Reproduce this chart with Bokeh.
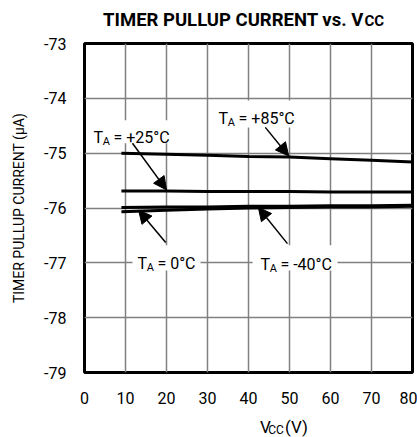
from bokeh.plotting import figure
from bokeh.layouts import column
from bokeh.models import Label, Arrow, NormalHead, BoxAnnotation, Range1d, FixedTicker
from bokeh.embed import file_html
from bokeh.resources import INLINE

# ---- data ----
vcc = [9, 20, 30, 40, 50, 60, 70, 80]
i_p85 = [-75.00, -75.02, -75.04, -75.06, -75.07, -75.10, -75.13, -75.16]
i_p25 = [-75.69, -75.69, -75.70, -75.70, -75.70, -75.71, -75.71, -75.71]
i_m40 = [-75.99, -75.98, -75.98, -75.97, -75.97, -75.96, -75.96, -75.95]
i_0 = [-76.07, -76.04, -76.02, -76.00, -75.99, -75.98, -75.98, -75.97]
x_ticks = [0, 10, 20, 30, 40, 50, 60, 70, 80]
y_ticks = [-79, -78, -77, -76, -75, -74, -73]
y_tick_labels = ["-79", "-78", "-77", "-76", "-75", "-74", "-73"]

FONT = "Roboto"
W = 417

def blank(height):
    f = figure(width=W, height=height, output_backend="svg", toolbar_location=None,
               title=None, x_range=Range1d(0, W), y_range=Range1d(0, height),
               x_axis_location=None, y_axis_location=None, min_border=0,
               min_border_top=0, min_border_bottom=0, min_border_left=0, min_border_right=0)
    f.outline_line_color = None
    f.grid.visible = False
    f.background_fill_color = "white"
    f.border_fill_color = "white"
    return f

def txt(f, x, y, text, size, xo=0, yo=0, align="left", style="normal"):
    f.add_layout(Label(x=x, y=y, x_offset=xo, y_offset=yo, text=text, text_font=FONT,
                       text_font_size=size, text_align=align, text_baseline="alphabetic",
                       text_font_style=style, text_color="black"))

# ---- title strip ----
top = blank(30)
txt(top, 355, 11, "TIMER PULLUP CURRENT vs. V", "18.5px", align="right", style="bold")
txt(top, 356, 9.5, "CC", "15px", style="bold")

# ---- main chart ----
p = figure(width=W, height=380, output_backend="svg", toolbar_location=None,
           x_range=Range1d(0, 80), y_range=Range1d(-79, -73),
           min_border_left=84, min_border_right=5, min_border_top=13, min_border_bottom=38)
p.background_fill_color = "white"
p.border_fill_color = "white"
p.outline_line_color = "black"
p.outline_line_width = 3

p.xaxis.ticker = FixedTicker(ticks=x_ticks)
p.yaxis.ticker = FixedTicker(ticks=y_ticks)
p.yaxis.major_label_overrides = {t: s for t, s in zip(y_ticks, y_tick_labels)}
for ax in (p.xaxis[0], p.yaxis[0]):
    ax.axis_line_color = None
    ax.major_tick_line_color = None
    ax.minor_tick_line_color = None
    ax.major_tick_out = 0
    ax.major_tick_in = 0
    ax.major_label_text_font = FONT
    ax.major_label_text_font_size = "16px"
    ax.major_label_text_color = "black"
p.xaxis.major_label_standoff = 19
p.yaxis.major_label_standoff = 18
p.yaxis.axis_label = "TIMER PULLUP CURRENT (\u03bcA)"
p.yaxis.axis_label_text_font = FONT
p.yaxis.axis_label_text_font_size = "14px"
p.yaxis.axis_label_text_font_style = "normal"
p.yaxis.axis_label_text_color = "black"
p.yaxis.axis_label_standoff = 14

p.grid.grid_line_color = "#808080"
p.grid.grid_line_width = 1.5

for ys in (i_p85, i_p25, i_m40, i_0):
    p.line(vcc, ys, line_color="black", line_width=3)

# white boxes behind the curve labels (left, right, bottom, top)
boxes = [(1.7, 21.2, -74.82, -74.40), (31.2, 52.0, -74.53, -74.04),
         (11.7, 28.3, -77.14, -76.68), (41.0, 61.7, -77.14, -76.68)]
for l, r, b, t in boxes:
    p.add_layout(BoxAnnotation(left=l, right=r, bottom=b, top=t, fill_color="white",
                               fill_alpha=1, line_color=None))

arrows = [(11.7, -74.82, 20.0, -75.67), (44.1, -74.53, 49.8, -75.05),
          (19.8, -76.63, 13.2, -76.04), (49.5, -76.65, 42.4, -75.99)]
for xs, ys, xe, ye in arrows:
    p.add_layout(Arrow(end=NormalHead(size=13, fill_color="black", line_color="black"),
                       x_start=xs, y_start=ys, x_end=xe, y_end=ye,
                       line_color="black", line_width=1.5))

def ta_label(x, y, rest):
    txt(p, x, y, "T", "16px")
    txt(p, x, y, "A", "11px", xo=9.3, yo=-4)
    txt(p, x, y, rest, "16px", xo=20)

ta_label(2.2, -74.714, "= +25\u00b0C")
ta_label(32.7, -74.368, "= +85\u00b0C")
ta_label(12.9, -77.01, "= 0\u00b0C")
ta_label(42.9, -77.03, "= -40\u00b0C")

# ---- x-axis label strip ----
bot = blank(27)
txt(bot, 223, 11, "V", "17px")
txt(bot, 233.5, 8, "CC", "12px")
txt(bot, 255, 11, "(V)", "17px")

layout = column(top, p, bot, spacing=0)
open("out.html", "w").write(file_html(layout, INLINE))
